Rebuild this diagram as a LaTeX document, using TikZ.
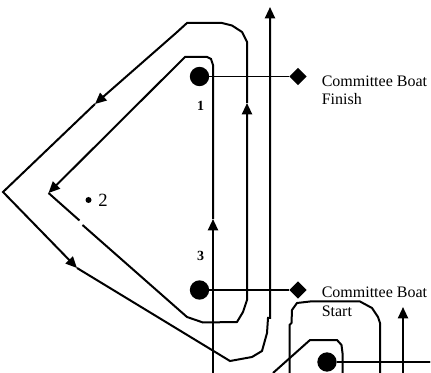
\documentclass[tikz,border=0pt]{standalone}
\usepackage{fontspec}
\setmainfont{Liberation Serif}
\usetikzlibrary{arrows.meta,shapes.geometric}
\begin{document}
\begin{tikzpicture}[x=0.75pt,y=-0.75pt,
  course/.style={line width=1.5pt,line join=miter},
  leg/.style={course,-{Triangle[length=8.5pt,width=7.5pt]}},
  markline/.style={line width=1pt},
  buoy/.style={circle,fill=black,inner sep=0pt,minimum size=14.5pt},
  boat/.style={diamond,fill=black,inner sep=0pt,minimum size=13pt},
  lbl/.style={font=\fontsize{12pt}{13.8pt}\selectfont,anchor=base west,inner sep=0pt},
  num/.style={font=\fontsize{10.5pt}{12pt}\selectfont\bfseries,inner sep=0pt}]
\useasboundingbox (0,0) rectangle (431,373);
% marks and committee boats
\node[buoy] (m1) at (199.5,76.5) {};
\node[boat] (d1) at (298,76.5) {};
\node[buoy] (m3) at (199.5,290) {};
\node[boat] (d3) at (298,290) {};
\node[buoy] (m4) at (327,362) {};
\node[boat] (d4) at (439,362) {};
\draw[markline] (m1) -- (d1);
\draw[markline] (m3) -- (d3);
\draw[markline] (m4) -- (d4);
\node[circle,fill=black,inner sep=0pt,minimum size=4.5pt] (m2) at (88.5,200) {};
\node[font=\fontsize{14pt}{16pt}\selectfont,inner sep=0pt] (t2) at (103,200) {2};
\node[num] (t1) at (200.5,106) {1};
\node[num] (t3) at (200.5,255.5) {3};
\node[lbl] (f1) at (321.5,87) {Committee Boat};
\node[lbl] (f2) at (321.5,105) {Finish};
\node[lbl] (s1) at (321.5,298) {Committee Boat};
\node[lbl] (s2) at (321.5,316) {Start};
% course legs
\draw[leg] (213,373) -- (213,219);
\draw[leg] (213,219) -- (213,65) -- (211,59) -- (207,57) -- (185,57) -- (48.5,193);
\draw[course] (48.5,193) -- (79.5,220.5);
\draw[leg] (82.5,225) -- (187,317) -- (203,322.5) -- (237,322) -- (243,312) -- (247,300) -- (247,103);
\draw[leg] (247,103) -- (247,42) -- (242,32) -- (232,25.5) -- (222,23) -- (187,23) -- (176,33) -- (95,104);
\draw[leg] (95,104) -- (3,192) -- (77,268);
\draw[leg] (77,268) -- (230,361) -- (252,357) -- (262,351) -- (267,333) -- (268,318) -- (270,318) -- (270,7);
% lower right
\draw[course] (273,373) -- (310,340) -- (337,340) -- (341.5,345) -- (342.5,353) -- (342.5,373);
\draw[course] (289.5,373) -- (289.5,325) -- (291.5,323) -- (292,310) -- (297,303) -- (310,301.5) -- (360,301.5) -- (372,308) -- (378,317) -- (380,323) -- (380,373);
\draw[leg] (403,373) -- (403,307);
\end{tikzpicture}
\end{document}
